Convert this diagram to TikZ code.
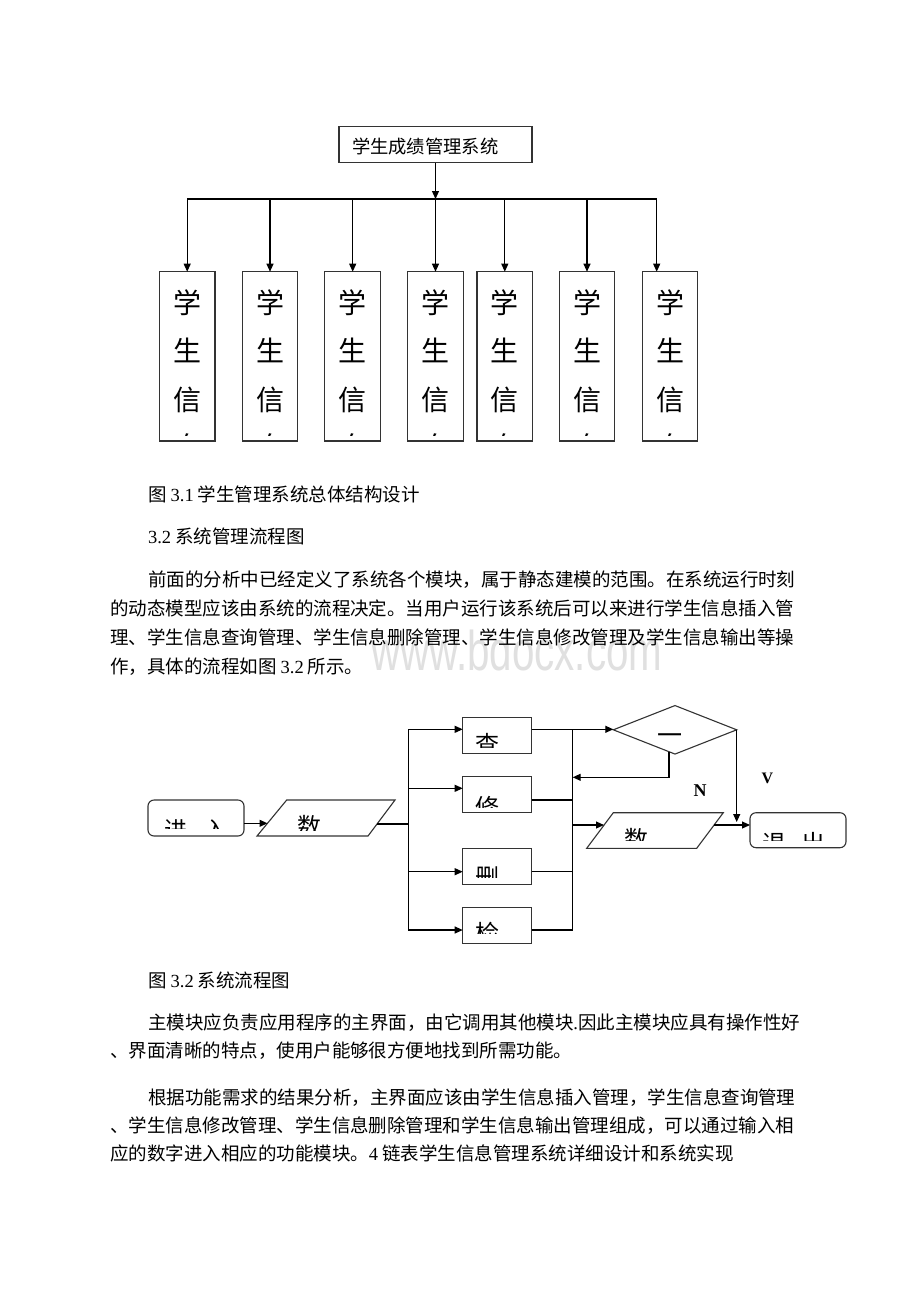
\documentclass[tikz,border=0pt]{standalone}
\usepackage{fontspec}
\usepackage{graphicx}
\setmainfont{Noto Sans CJK SC}
\newfontfamily\latf{Liberation Serif}
\newfontfamily\wmf{Liberation Sans}
\usetikzlibrary{arrows.meta,shapes.geometric}
\tikzset{
  every node/.style={inner sep=0pt, outer sep=0pt},
  box/.style={draw=black!80, line width=1.1pt},
  rbox/.style={box, rounded corners=6pt},
  ln/.style={line width=1.1pt},
  arr/.style={line width=1.1pt, -{Triangle[length=8pt,width=7pt]}},
  body/.style={anchor=base west, font=\fontsize{18.5}{18.5}\selectfont},
  fc/.style={anchor=base west, font=\fontsize{24}{24}\selectfont},
  tall/.style={anchor=base, font=\fontsize{28}{28}\selectfont},
  lbl/.style={font=\latf\bfseries\fontsize{17}{17}\selectfont},
}
\begin{document}
\begin{tikzpicture}[x=1pt,y=-1pt]
\fill[white] (0,0) rectangle (920,1302);
\useasboundingbox (0,0) rectangle (920,1302);

% watermark
\node[anchor=base west, text=black!12, font=\wmf\fontsize{56}{56}\selectfont] (wm) at (371,670) {\scalebox{0.72}[1]{www.bdocx.com}};

% ---------- structure chart ----------
\node[box, minimum width=193pt, minimum height=36.7pt] (top) at (435.5,144.4) {};
\node[anchor=base west, font=\fontsize{18.3}{18.3}\selectfont] (topt) at (352,153) {学生成绩管理系统};
\coordinate (hub) at (435.5,199);
\draw[arr] (top.south) -- (hub);
\foreach \i/\x in {1/187.2,2/270,3/352.7,4/435.5,5/504.8,6/587,7/670}{
  \node[box, minimum width=55.6pt, minimum height=169.3pt] (b\i) at (\x,356.35) {};
  \begin{scope}
    \clip (b\i.north west) rectangle ([yshift=6pt]b\i.south east);
    \node[tall] (ba\i) at (\x,313) {学};
    \node[tall] (bb\i) at (\x,361.5) {生};
    \node[tall] (bc\i) at (\x,410) {信};
    \node[tall] (bd\i) at (\x,457) {息};
  \end{scope}
}
\draw[ln] (b1.north |- hub) -- ([xshift=-13.3pt]b7.north |- hub);
\foreach \i in {1,...,6}{\draw[arr] (b\i.north |- hub) -- (b\i.north);}
\draw[arr] ([xshift=-13.3pt]b7.north |- hub) -- ([xshift=-13.3pt]b7.north);

% ---------- text ----------
\node[body] (c1) at (148,501) {图 {\latf 3.1} 学生管理系统总体结构设计};
\node[body] (h2) at (148,543) {{\latf 3.2} 系统管理流程图};
\node[body] (p1a) at (148,586) {前面的分析中已经定义了系统各个模块，属于静态建模的范围。在系统运行时刻};
\node[body] (p1b) at (110,615) {的动态模型应该由系统的流程决定。当用户运行该系统后可以来进行学生信息插入管};
\node[body] (p1c) at (110,644) {理、学生信息查询管理、学生信息删除管理、学生信息修改管理及学生信息输出等操};
\node[body] (p1d) at (110,673) {作，具体的流程如图 {\latf 3.2} 所示。};

\node[body] (c2) at (148,987) {图 {\latf 3.2} 系统流程图};
\node[body] (p2a) at (148,1029) {主模块应负责应用程序的主界面，由它调用其他模块{\latf .}因此主模块应具有操作性好};
\node[body] (p2b) at (110,1057) {、界面清晰的特点，使用户能够很方便地找到所需功能。};
\node[body] (p3a) at (148,1104) {根据功能需求的结果分析，主界面应该由学生信息插入管理，学生信息查询管理};
\node[body] (p3b) at (110,1132) {、学生信息修改管理、学生信息删除管理和学生信息输出管理组成，可以通过输入相};
\node[body] (p3c) at (110,1160) {应的数字进入相应的功能模块。{\latf 4} 链表学生信息管理系统详细设计和系统实现};

% ---------- flow chart ----------
\node[rbox, minimum width=96pt, minimum height=36pt] (in) at (196,818) {};
\coordinate (dBL) at (257,836);
\coordinate (dTL) at (286.7,800);
\coordinate (dTR) at (395,800);
\coordinate (dBR) at (368,836);
\draw[box] (dBL) -- (dTL) -- (dTR) -- (dBR) -- cycle;
\coordinate (datL) at (267.5,823.3);
\coordinate (datR) at (377,824);
\draw[arr] ([yshift=-5.3pt]in.east) -- (datL);

\foreach \n/\y in {chk/735.3, mod/794.7, del/866.2, srch/925.3}{
  \node[box, minimum width=69pt, minimum height=36pt] (\n) at (497.2,\y) {};
}
\coordinate (lb1) at (408.3,729.3);
\coordinate (lb2) at (408.3,788.3);
\coordinate (lb3) at (408.3,871.7);
\coordinate (lb4) at (408.3,930);
\coordinate (rb1) at (572.7,729.3);
\coordinate (rb2) at (572.7,800);
\coordinate (rb3) at (572.7,871.7);
\coordinate (rb4) at (572.7,930);
\draw[ln] (datR) -- (datR -| lb1);
\draw[ln] (lb1) -- (lb4);
\foreach \c/\n in {lb1/chk, lb2/mod, lb3/del, lb4/srch}{\draw[arr] (\c) -- (\c -| \n.west);}
\foreach \c/\n in {rb1/chk, rb2/mod, rb3/del, rb4/srch}{\draw[ln] (\c -| \n.east) -- (\c);}
\draw[ln] (rb1) -- (rb4);

\node[diamond, box, minimum width=123.4pt, minimum height=48.5pt] (dec) at (675,729.8) {};
\draw[arr] (rb1) -- (rb1 -| dec.west);
\coordinate (decb) at (669,751.6);
\coordinate (rbm) at (572.7,777.3);
\draw[arr] (decb) |- (rbm);

\coordinate (oBL) at (586.7,848.3);
\coordinate (oTL) at (613.3,812.7);
\coordinate (oTR) at (723.3,812.7);
\coordinate (oBR) at (696.7,848.3);
\draw[box] (oBL) -- (oTL) -- (oTR) -- (oBR) -- cycle;
\coordinate (rbo) at (572.7,825);
\coordinate (outL) at (604,825);
\coordinate (outR) at (714,825);
\draw[arr] (rbo) -- (outL);
\node[rbox, minimum width=96pt, minimum height=35pt] (ext) at (798,830.2) {};
\draw[arr] (outR) -- (outR -| ext.west);
\coordinate (ytip) at (736.7,822);
\draw[arr] (dec.east) -- (ytip);

% labels
\node[anchor=base, font=\fontsize{25}{25}\selectfont] (dect) at (669.5,744.5) {一};
\node[lbl, font=\latf\bfseries\fontsize{18}{18}\selectfont] (lblN) at (700,791) {N};
\node[lbl, font=\latf\bfseries\fontsize{16}{16}\selectfont] (lblY) at (767.5,778) {V};

% clipped flow chart texts
\begin{scope}
  \clip (149,801) rectangle (243,828);
  \node[fc, font=\fontsize{23}{23}\selectfont] (int) at (164,838.5) {进\hspace{18pt}入};
\end{scope}
\begin{scope}
  \clip (280,801) rectangle (375,830);
  \node[fc] (datt) at (297,835.4) {数};
\end{scope}
\begin{scope}
  \clip (464,718) rectangle (531,747);
  \node[fc] (chkt) at (475.5,753.4) {查};
\end{scope}
\begin{scope}
  \clip (464,778) rectangle (531,807);
  \node[fc] (modt) at (475,816.4) {修};
\end{scope}
\begin{scope}
  \clip (464,849) rectangle (531,877);
  \node[fc] (delt) at (475,886.4) {删};
\end{scope}
\begin{scope}
  \clip (464,908) rectangle (531,933);
  \node[fc] (srcht) at (475,942.4) {检};
\end{scope}
\begin{scope}
  \clip (605,814) rectangle (705,840);
  \node[fc] (outt) at (624,848.4) {数};
\end{scope}
\begin{scope}
  \clip (751,814) rectangle (845,840);
  \node[fc] (extt) at (762,852.4) {退\hspace{16pt}出};
\end{scope}
\end{tikzpicture}
\end{document}
